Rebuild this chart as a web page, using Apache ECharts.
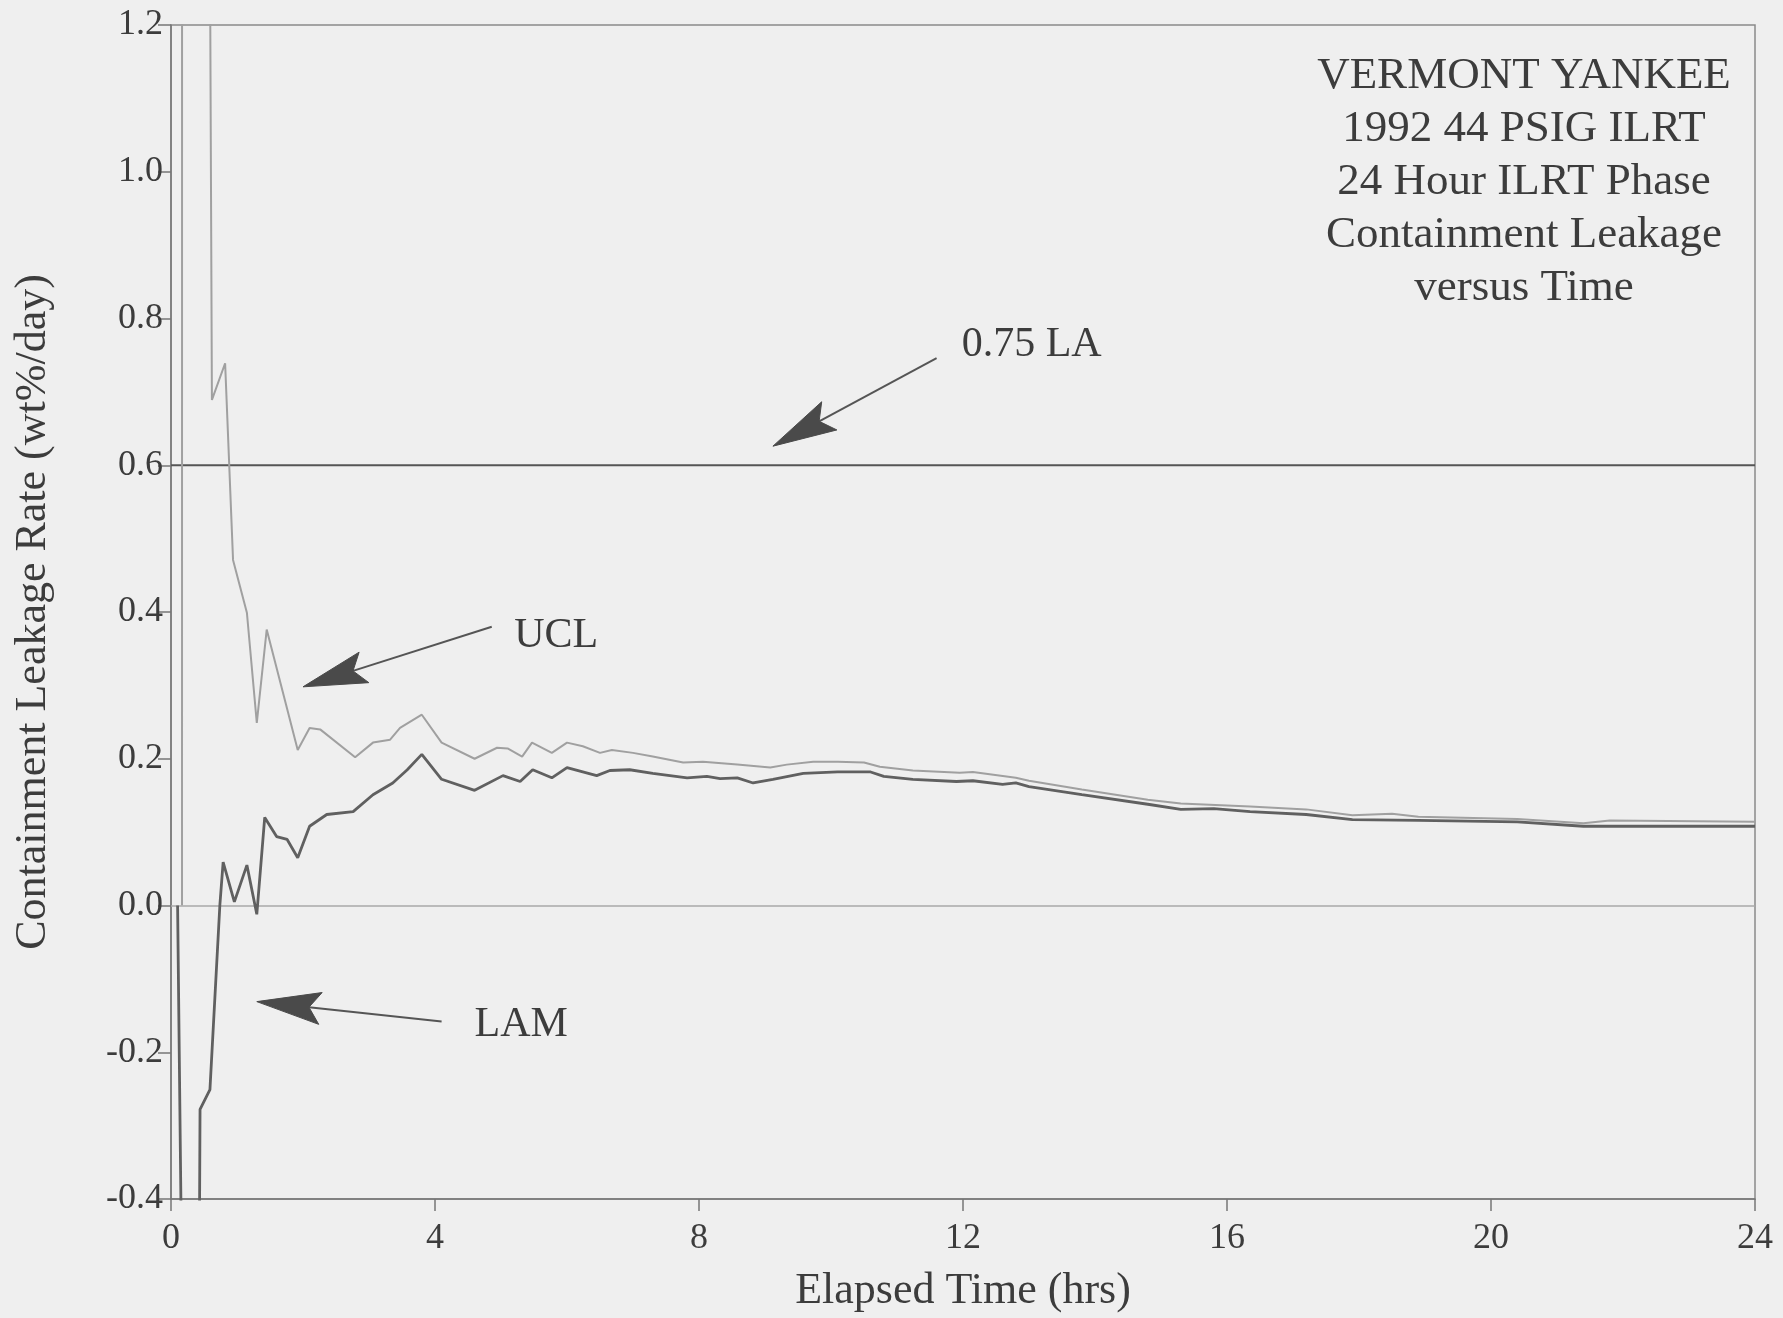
<!DOCTYPE html>
<html><head><meta charset="utf-8">
<script src="https://cdn.jsdelivr.net/npm/echarts/dist/echarts.min.js"></script>
<style>html,body{margin:0;padding:0;background:#efefef}#c{width:1783px;height:1318px}</style>
</head><body><div id="c"></div>
<script>
// Elapsed time (hrs) and rates (wt%/day)
const uclTime = [0.167,0.17,0.62,0.82,0.94,1.15,1.3,1.45,1.92,2.1,2.26,2.79,3.06,3.32,3.47,3.8,4.1,4.6,4.94,5.1,5.32,5.47,5.77,6.0,6.24,6.5,6.68,7.0,7.3,7.76,8.06,8.58,9.08,9.33,9.73,10.1,10.5,10.74,11.24,11.95,12.15,12.8,13.0,13.8,14.8,15.3,16.35,17.2,17.9,18.5,18.9,20.4,21.4,21.8,24.0];
const uclRate = [0.0,10.0,0.689,0.739,0.471,0.399,0.249,0.376,0.212,0.242,0.24,0.202,0.222,0.226,0.242,0.26,0.222,0.2,0.215,0.214,0.203,0.222,0.208,0.222,0.217,0.208,0.212,0.208,0.203,0.195,0.196,0.192,0.188,0.192,0.196,0.196,0.195,0.189,0.184,0.181,0.182,0.174,0.17,0.158,0.144,0.139,0.135,0.131,0.123,0.125,0.121,0.118,0.112,0.116,0.114];
const lamTime = [0.1,0.25,0.39,0.44,0.59,0.74,0.79,0.96,1.15,1.3,1.42,1.6,1.76,1.92,2.1,2.36,2.76,3.06,3.36,3.58,3.8,4.1,4.6,5.03,5.29,5.48,5.77,6.0,6.45,6.65,6.95,7.3,7.82,8.12,8.32,8.58,8.82,9.12,9.58,10.1,10.6,10.8,11.24,11.9,12.15,12.6,12.8,13.0,13.8,14.8,15.3,15.8,16.35,17.2,17.9,18.9,20.4,21.4,24.0];
const lamRate = [0.0,-1.2,-1.2,-0.278,-0.251,0.0,0.059,0.005,0.055,-0.012,0.12,0.094,0.09,0.065,0.108,0.124,0.128,0.151,0.167,0.185,0.206,0.172,0.157,0.177,0.169,0.185,0.174,0.188,0.177,0.184,0.185,0.18,0.174,0.176,0.173,0.174,0.167,0.172,0.18,0.182,0.182,0.176,0.172,0.169,0.17,0.165,0.167,0.162,0.151,0.138,0.131,0.132,0.128,0.124,0.117,0.116,0.114,0.108,0.108];
const limitTime = [0, 24];
const limitRate = [0.6, 0.6];
const xTicks = [0, 4, 8, 12, 16, 20, 24];
const yTicks = [-0.4, -0.2, 0.0, 0.2, 0.4, 0.6, 0.8, 1.0, 1.2];
const titleLines = ['VERMONT YANKEE', '1992 44 PSIG ILRT', '24 Hour ILRT Phase', 'Containment Leakage', 'versus Time'];
// annotations: label, label anchor [t,v], arrow tip [t,v], arrow tail [t,v]
const annoText = ['0.75 LA', 'UCL', 'LAM'];
const annoLabel = [[11.98, 0.764], [5.2, 0.368], [4.6, -0.163]];
const annoTip = [[9.12, 0.626], [2.0, 0.298], [1.3, -0.131]];
const annoTail = [[11.6, 0.746], [4.86, 0.38], [4.1, -0.158]];

const zip = (a, b) => a.map((v, i) => [v, b[i]]);
const FONT = '"Liberation Serif", "DejaVu Serif", serif';
const TXT = '#3c3c3c';

const chart = echarts.init(document.getElementById('c'), null, {renderer: 'canvas'});
chart.setOption({
  backgroundColor: '#efefef',
  animation: false,
  grid: {left: 171, right: 28, top: 25, bottom: 118, show: true, borderColor: '#8a8a8a', borderWidth: 1.5, backgroundColor: 'transparent'},
  xAxis: {
    type: 'value', min: 0, max: 24, interval: 4,
    name: 'Elapsed Time (hrs)', nameLocation: 'middle', nameGap: 70,
    nameTextStyle: {fontFamily: FONT, fontSize: 44, color: TXT},
    axisLine: {show: true, onZero: false, lineStyle: {color: '#777', width: 1.5}},
    axisTick: {show: true, length: 12, lineStyle: {color: '#777', width: 1.5}},
    axisLabel: {fontFamily: FONT, fontSize: 36, color: TXT, margin: 22,
      formatter: v => xTicks.includes(v) ? String(v) : ''},
    splitLine: {show: false}
  },
  yAxis: {
    type: 'value', min: -0.4, max: 1.2, interval: 0.2,
    name: 'Containment Leakage Rate (wt%/day)', nameLocation: 'middle', nameGap: 116,
    nameTextStyle: {fontFamily: FONT, fontSize: 44, color: TXT},
    axisLine: {show: true, onZero: false, lineStyle: {color: '#777', width: 1.5}},
    axisTick: {show: true, length: 13, lineStyle: {color: '#777', width: 1.5}},
    axisLabel: {fontFamily: FONT, fontSize: 36, color: TXT, margin: 8,
      formatter: v => {
        const t = yTicks.find(y => Math.abs(y - v) < 1e-6);
        return t === undefined ? '' : t.toFixed(1);
      }},
    splitLine: {show: false}
  },
  series: [
    {
      name: '0.75 LA', type: 'line', data: zip(limitTime, limitRate), symbol: 'none',
      lineStyle: {color: '#555', width: 2.2}, z: 3,
      markLine: {silent: true, symbol: 'none', label: {show: false},
        lineStyle: {color: '#a8a8a8', width: 1.5, type: 'solid'}, data: [{yAxis: 0}]}
    },
    {
      name: 'UCL', type: 'line', data: zip(uclTime, uclRate), symbol: 'none', clip: true,
      lineStyle: {color: '#a0a0a0', width: 2}, z: 4
    },
    {
      name: 'LAM', type: 'line', data: zip(lamTime, lamRate), symbol: 'none', clip: true,
      lineStyle: {color: '#606060', width: 2.8}, z: 5
    }
  ]
});

const px = p => chart.convertToPixel({xAxisIndex: 0, yAxisIndex: 0}, p);
const elements = [];
annoText.forEach((txt, i) => {
  const T = px(annoTip[i]), S = px(annoTail[i]), L = px(annoLabel[i]);
  const dx = S[0] - T[0], dy = S[1] - T[1], len = Math.hypot(dx, dy);
  const ux = dx / len, uy = dy / len, nx = -uy, ny = ux;
  const HL = 64, HW = 16;
  const B1 = [T[0] + ux * HL + nx * HW, T[1] + uy * HL + ny * HW];
  const B2 = [T[0] + ux * HL - nx * HW, T[1] + uy * HL - ny * HW];
  const N = [T[0] + ux * HL * 0.82, T[1] + uy * HL * 0.82];
  elements.push({type: 'line', shape: {x1: N[0], y1: N[1], x2: S[0], y2: S[1]},
    style: {stroke: '#555', lineWidth: 2}, z: 10});
  elements.push({type: 'polygon', shape: {points: [T, B1, N, B2]},
    style: {fill: '#4a4a4a', stroke: '#4a4a4a', lineWidth: 1}, z: 10});
  elements.push({type: 'text', x: L[0], y: L[1],
    style: {text: txt, font: '42px ' + FONT, fill: TXT, textAlign: 'left', textVerticalAlign: 'middle'}, z: 10});
});
elements.push({type: 'text', x: 1524, y: 50,
  style: {text: titleLines.join('\n'), font: '45px ' + FONT, fill: TXT, textAlign: 'center', textVerticalAlign: 'top', lineHeight: 53}, z: 10});
chart.setOption({graphic: {elements: elements}});
</script></body></html>
